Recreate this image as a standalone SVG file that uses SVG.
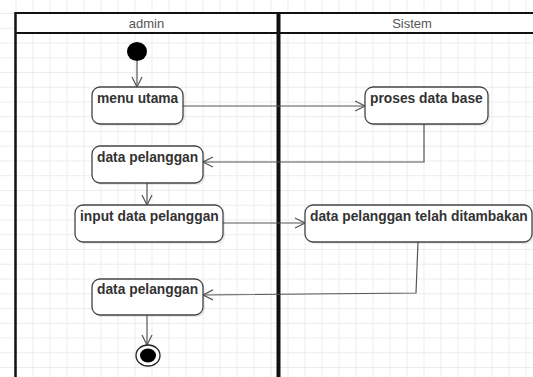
<svg xmlns="http://www.w3.org/2000/svg" width="533" height="377" viewBox="0 0 533 377">
<style>
.box{fill:#fff;stroke:#444;stroke-width:1.3}
.shadow{fill:#000;opacity:0.08}
.lbl{font-family:"Liberation Sans",Arial,sans-serif;font-weight:bold;font-size:13.8px;fill:#333}
.hdr{font-family:"Liberation Sans",Arial,sans-serif;font-size:13px;fill:#555;text-anchor:middle}
.conn{fill:none;stroke:#555;stroke-width:1.2}
.frame{stroke:#111;fill:none}
</style>
<defs>
<pattern id="grid" patternUnits="userSpaceOnUse" x="15.5" y="13" width="17" height="14.75">
<path d="M0.5 0V14.75M0 0.5H17" fill="none" stroke="#ececec" stroke-width="1"/>
</pattern>
<marker id="arr" viewBox="0 0 12 12" refX="11" refY="6" markerWidth="12" markerHeight="12" markerUnits="userSpaceOnUse" orient="auto">
<path d="M1 1L11 6L1 11" fill="none" stroke="#555" stroke-width="1.2"/>
</marker>
</defs>
<rect width="533" height="377" fill="#fff"/>
<rect width="533" height="377" fill="url(#grid)"/>
<g id="swimlanes">
<rect x="15" y="13" width="530" height="20" fill="#fff"/>
<line class="frame" x1="15" y1="13" x2="533" y2="13" stroke-width="2"/>
<line class="frame" x1="15" y1="33" x2="533" y2="33" stroke-width="2"/>
<line class="frame" x1="15.5" y1="12" x2="15.5" y2="377" stroke-width="2.5"/>
<line class="frame" x1="278.5" y1="12" x2="278.5" y2="377" stroke-width="4"/>
<text class="hdr" x="146.5" y="28">admin</text>
<text class="hdr" x="412" y="28">Sistem</text>
</g>
<g id="connectors">
<line class="conn" x1="137" y1="61" x2="137" y2="87" marker-end="url(#arr)"/>
<line class="conn" x1="183" y1="106" x2="365" y2="106" marker-end="url(#arr)"/>
<polyline class="conn" points="424,124 424,162 203,162" marker-end="url(#arr)"/>
<line class="conn" x1="147" y1="183" x2="147" y2="205" marker-end="url(#arr)"/>
<line class="conn" x1="223" y1="223" x2="305" y2="223" marker-end="url(#arr)"/>
<polyline class="conn" points="418,242 416,293 203,295" marker-end="url(#arr)"/>
<line class="conn" x1="147" y1="315" x2="147" y2="345" marker-end="url(#arr)"/>
</g>
<g id="start">
<ellipse cx="137" cy="51.5" rx="10" ry="9.5" fill="#000"/>
</g>
<g id="menu-utama">
<rect class="shadow" x="94" y="89" width="91" height="37" rx="8"/>
<rect class="box" x="92" y="87" width="91" height="37" rx="8"/>
<text class="lbl" x="97" y="103">menu utama</text>
</g>
<g id="proses-data-base">
<rect class="shadow" x="367" y="89" width="123" height="37" rx="8"/>
<rect class="box" x="365" y="87" width="123" height="37" rx="8"/>
<text class="lbl" x="370" y="103">proses data base</text>
</g>
<g id="data-pelanggan-1">
<rect class="shadow" x="94" y="148" width="111" height="37" rx="8"/>
<rect class="box" x="92" y="146" width="111" height="37" rx="8"/>
<text class="lbl" x="97" y="162">data pelanggan</text>
</g>
<g id="input-data-pelanggan">
<rect class="shadow" x="77" y="207" width="148" height="37" rx="8"/>
<rect class="box" x="75" y="205" width="148" height="37" rx="8"/>
<text class="lbl" x="80" y="221">input data pelanggan</text>
</g>
<g id="data-pelanggan-ditambakan">
<rect class="shadow" x="307" y="207" width="227" height="37" rx="8"/>
<rect class="box" x="305" y="205" width="227" height="37" rx="8"/>
<text class="lbl" x="310" y="221">data pelanggan telah ditambakan</text>
</g>
<g id="data-pelanggan-2">
<rect class="shadow" x="94" y="281" width="111" height="36" rx="8"/>
<rect class="box" x="92" y="279" width="111" height="36" rx="8"/>
<text class="lbl" x="97" y="294">data pelanggan</text>
</g>
<g id="end">
<ellipse cx="148" cy="355.5" rx="12" ry="10.5" fill="#fff" stroke="#222" stroke-width="1.3"/>
<ellipse cx="148" cy="355.5" rx="8" ry="7" fill="#000"/>
</g>
</svg>
